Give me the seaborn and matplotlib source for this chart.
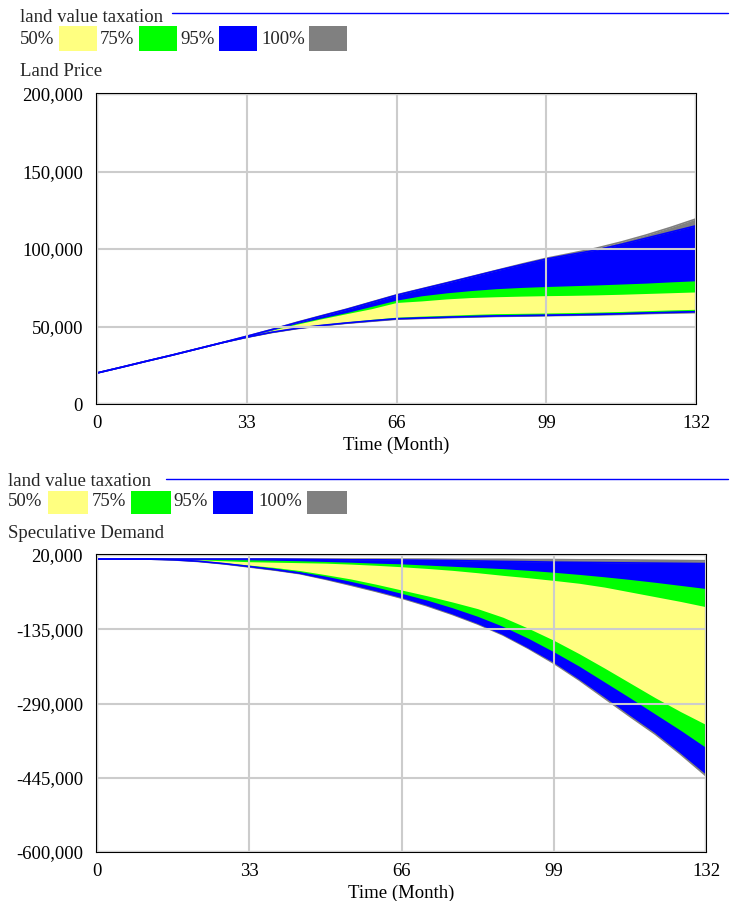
import matplotlib
matplotlib.use("Agg")
import matplotlib.pyplot as plt
from matplotlib.patches import Rectangle
from matplotlib.lines import Line2D
from matplotlib.ticker import StrMethodFormatter
import numpy as np
import seaborn as sns

# time axis (months)
time = [0, 5.5, 11, 16.5, 22, 27.5, 33, 38.5, 44, 49.5, 55, 60.5, 66,
        71.5, 77, 82.5, 88, 93.5, 99, 104.5, 110, 115.5, 121, 126.5, 132]

# Land Price sensitivity bounds (thousands)
lp_max  = [20, 23.8, 27.7, 31.5, 35.5, 39.5, 43.7, 48.0, 52.7, 57.0, 61.2, 65.8, 70.4,
           74.3, 78.2, 82.2, 86.2, 90.2, 94.0, 97.2, 100.5, 104.5, 109.0, 114.0, 119.4]
lp_p975 = [20, 23.8, 27.7, 31.5, 35.5, 39.5, 43.7, 48.0, 52.5, 56.8, 61.0, 65.6, 70.2,
           74.1, 78.0, 82.0, 86.0, 89.8, 93.5, 96.5, 99.3, 103.0, 107.0, 111.0, 115.0]
lp_p875 = [20, 23.8, 27.7, 31.5, 35.5, 39.5, 43.6, 47.8, 52.0, 55.5, 59.0, 63.0, 67.0,
           69.8, 71.7, 73.2, 74.4, 75.2, 75.8, 76.3, 76.8, 77.4, 78.0, 78.8, 79.5]
lp_p75  = [20, 23.8, 27.7, 31.5, 35.5, 39.5, 43.5, 47.6, 51.5, 55.0, 58.3, 61.5, 65.5,
           66.5, 67.8, 68.7, 69.2, 69.6, 69.9, 70.1, 70.4, 70.8, 71.3, 71.8, 72.3]
lp_p25  = [20, 23.8, 27.7, 31.5, 35.5, 39.5, 43.3, 46.5, 49.2, 51.3, 53.0, 54.6, 56.0,
           56.7, 57.2, 57.8, 58.3, 58.5, 58.7, 59.0, 59.3, 59.7, 60.2, 60.7, 61.1]
lp_p125 = [20, 23.8, 27.7, 31.5, 35.5, 39.5, 43.2, 46.4, 49.0, 51.0, 52.7, 54.2, 55.5,
           56.1, 56.6, 57.1, 57.5, 57.8, 58.0, 58.3, 58.6, 59.0, 59.4, 59.8, 60.2]
lp_p025 = [20, 23.8, 27.7, 31.5, 35.5, 39.5, 43.1, 46.3, 48.8, 50.7, 52.3, 53.7, 55.0,
           55.5, 56.0, 56.4, 56.8, 57.0, 57.2, 57.5, 57.8, 58.2, 58.7, 59.1, 59.5]
lp_min  = [20, 23.8, 27.7, 31.5, 35.5, 39.5, 43.0, 46.1, 48.6, 50.5, 52.1, 53.4, 54.7,
           55.2, 55.7, 56.1, 56.5, 56.7, 57.0, 57.2, 57.5, 57.8, 58.3, 58.7, 59.0]

# Speculative Demand sensitivity bounds (thousands)
sd_max  = [11.5, 11.5, 11.5, 11.5, 11.5, 11.5, 11.5, 11.5, 11.5, 11.5, 11.5, 11.5, 11.5,
           11.5, 11.0, 11.0, 11.0, 10.5, 10.5, 10.0, 10.0, 9.5, 9.0, 8.5, 8.0]
sd_p975 = [11.5, 11.5, 11.5, 11.5, 11.5, 11.5, 11.5, 11.5, 11.0, 10.5, 10.0, 10.0, 9.5,
           9.0, 8.5, 7.5, 6.5, 6.0, 5.0, 4.5, 4.0, 3.5, 3.0, 2.5, 2.0]
sd_p875 = [11.5, 11.5, 11.5, 11.5, 11.0, 10.5, 10.0, 9.0, 8.0, 6.5, 5.0, 3.0, 1.5,
           -1.0, -3.5, -6.0, -8.5, -12.0, -16.0, -20.5, -25.5, -31.0, -37.0, -43.5, -50.0]
sd_p75  = [11.5, 11.5, 11.5, 11.0, 10.0, 8.0, 6.0, 5.0, 4.0, 3.0, 1.0, -1.5, -4.5,
           -8.0, -12.0, -17.0, -22.5, -27.5, -33.0, -39.0, -47.0, -57.0, -67.0, -77.0, -88.0]
sd_p25  = [11.5, 11.5, 11.5, 10.5, 8.0, 4.0, -1.0, -6.0, -12.5, -21.0, -30.0, -41.0, -53.0,
           -65.0, -78.0, -92.0, -110.0, -133.0, -158.0, -186.0, -216.0, -247.0, -278.0, -307.0, -334.0]
sd_p125 = [11.5, 11.5, 11.5, 10.3, 7.5, 3.0, -2.5, -8.0, -15.0, -24.0, -35.0, -47.0, -60.0,
           -74.0, -90.0, -108.0, -129.0, -154.0, -182.0, -212.0, -245.0, -278.0, -312.0, -346.0, -382.0]
sd_p025 = [11.5, 11.5, 11.5, 10.0, 7.0, 2.0, -4.0, -10.5, -18.0, -29.0, -41.0, -54.0, -68.0,
           -84.0, -102.0, -122.0, -145.0, -173.0, -203.0, -238.0, -275.0, -313.0, -350.0, -392.0, -436.0]
sd_min  = [11.5, 11.5, 11.5, 9.8, 6.5, 1.5, -5.0, -11.5, -19.0, -30.5, -43.0, -56.0, -70.0,
           -86.0, -104.0, -124.0, -147.0, -175.0, -206.0, -241.0, -279.0, -317.0, -354.0, -396.0, -441.0]

band_labels = ["50%", "75%", "95%", "100%"]
band_colors = ["#ffff80", "#00ff00", "#0000ff", "#808080"]

sns.set_theme(style="white")
plt.rcParams["font.family"] = ["Liberation Serif", "DejaVu Serif"]
plt.rcParams["axes.unicode_minus"] = False
FS = 13.5

W, H = 732, 901
fig = plt.figure(figsize=(W / 100, H / 100), dpi=100)


def fx(x):
    return x / W


def fy(y):
    return 1 - y / H


def header(x0, y_title, line_x0, y_line, y_leg, label_xs, patch_xs, pw, py0, py1, y_var, var_name):
    fig.text(fx(x0), fy(y_title), "land value taxation", fontsize=FS, va="center", ha="left")
    fig.add_artist(Line2D([fx(line_x0), fx(W - 4)], [fy(y_line), fy(y_line)],
                          transform=fig.transFigure, color="#0000ff", lw=1))
    for lab, lx, px, c in zip(band_labels, label_xs, patch_xs, band_colors):
        fig.text(fx(lx), fy(y_leg), lab, fontsize=FS, va="center", ha="left")
        fig.add_artist(Rectangle((fx(px), fy(py1)), pw / W, (py1 - py0) / H,
                                 transform=fig.transFigure, color=c, lw=0))
    fig.text(fx(x0), fy(y_var), var_name, fontsize=FS, va="center", ha="left")


def panel(rect, bounds, ylim, yticks):
    ax = fig.add_axes(rect)
    t = np.array(time)
    b = [np.array(v) * 1000 for v in bounds]
    # outermost band first: 100%, 95%, 75%, 50%
    for i, c in zip(range(4), band_colors[::-1]):
        ax.fill_between(t, b[i], b[7 - i], color=c, lw=0)
    sns.lineplot(x=t, y=b[0], ax=ax, color="#808080", lw=1.2, legend=False)
    sns.lineplot(x=t, y=b[7], ax=ax, color="#808080", lw=1.2, legend=False)
    sns.lineplot(x=t, y=b[1], ax=ax, color="#0000ff", lw=1.2, legend=False)
    sns.lineplot(x=t, y=b[6], ax=ax, color="#0000ff", lw=1.2, legend=False)
    ax.set_xlim(0, 132)
    ax.set_ylim(*ylim)
    ax.set_xticks([0, 33, 66, 99, 132])
    ax.set_yticks(yticks)
    ax.yaxis.set_major_formatter(StrMethodFormatter("{x:,.0f}"))
    ax.set_axisbelow(False)
    ax.grid(True, color="#cccccc", lw=1.5)
    for s in ax.spines.values():
        s.set_color("black")
        s.set_linewidth(1.5)
    ax.tick_params(length=0, labelsize=FS, colors="black")
    ax.tick_params(axis="y", pad=10)
    ax.tick_params(axis="x", pad=8)
    ax.set_xlabel("Time (Month)", fontsize=FS, labelpad=3, color="black")
    ax.set_ylabel("")
    return ax


# top panel
header(20, 17, 172, 13, 39, [20, 100, 180, 261], [59, 139, 219, 309], 38, 26, 51, 72, "Land Price")
panel([fx(97), fy(404), (696 - 97) / W, (404 - 94) / H],
      [lp_max, lp_p975, lp_p875, lp_p75, lp_p25, lp_p125, lp_p025, lp_min],
      (0, 200000), [0, 50000, 100000, 150000, 200000])

# bottom panel
header(8, 482, 166, 479, 502, [8, 92, 173, 258], [48, 131, 213, 307], 40, 491, 514, 533, "Speculative Demand")
panel([fx(97), fy(852), (706 - 97) / W, (852 - 555) / H],
      [sd_max, sd_p975, sd_p875, sd_p75, sd_p25, sd_p125, sd_p025, sd_min],
      (-600000, 20000), [-600000, -445000, -290000, -135000, 20000])

fig.savefig("out.png", dpi=100)
